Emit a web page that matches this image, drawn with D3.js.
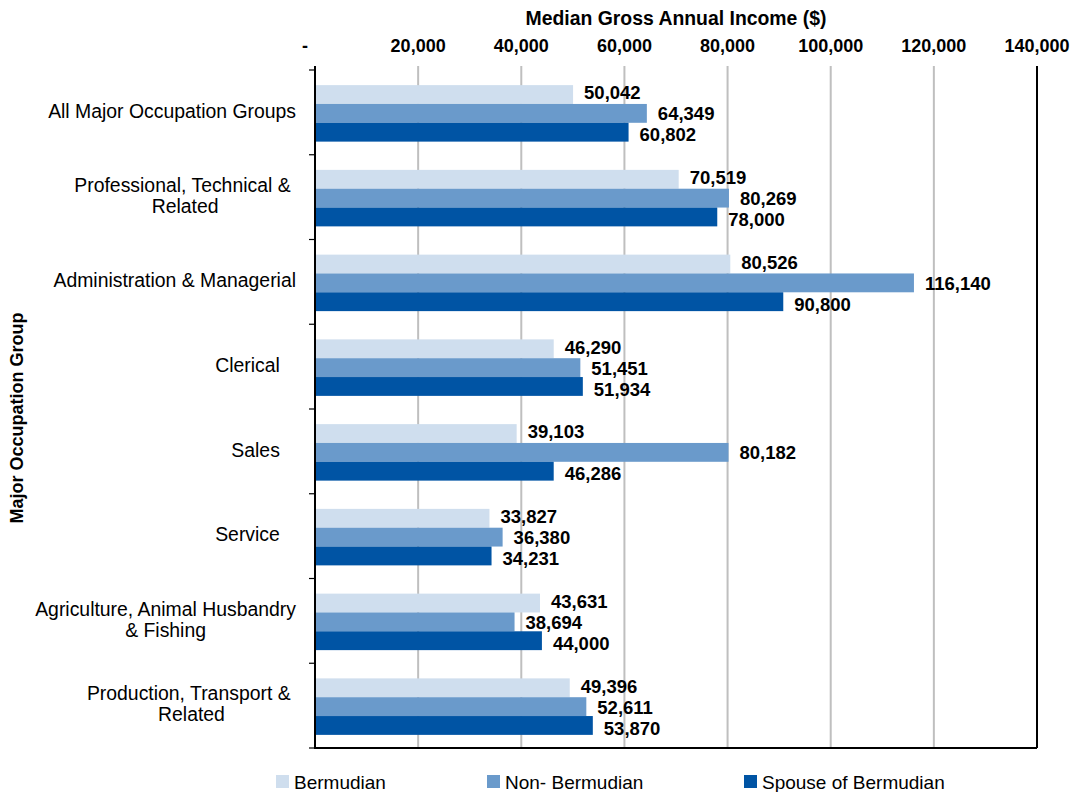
<!DOCTYPE html>
<html>
<head>
<meta charset="utf-8">
<script src="https://cdn.jsdelivr.net/npm/d3@7"></script>
<style>
  html, body { margin: 0; padding: 0; background: #fff; }
  svg { display: block; font-family: "Liberation Sans", Arial, sans-serif; }
  text { white-space: pre; }
</style>
</head>
<body>
<svg id="chart" width="1077" height="792"></svg>
<script>
const categories = [
  ["All Major Occupation Groups"],
  ["Professional, Technical & ", "Related"],
  ["Administration & Managerial"],
  ["Clerical   "],
  ["Sales   "],
  ["Service   "],
  ["Agriculture, Animal Husbandry", "& Fishing"],
  ["Production, Transport & ", "Related"]
];
const seriesNames = ["Bermudian", "Non- Bermudian", "Spouse of Bermudian"];
const bermudian = [50042, 70519, 80526, 46290, 39103, 33827, 43631, 49396];
const nonBermudian = [64349, 80269, 116140, 51451, 80182, 36380, 38694, 52611];
const spouse = [60802, 78000, 90800, 51934, 46286, 34231, 44000, 53870];
const tickValues = [0, 20000, 40000, 60000, 80000, 100000, 120000, 140000];
const tickLabels = ["-", "20,000", "40,000", "60,000", "80,000", "100,000", "120,000", "140,000"];
const colors = ["#cfdeee", "#6a9acb", "#0054a4"];
const xTitle = "Median Gross Annual Income ($)";
const yTitle = "Major Occupation Group";

(function() {
const series = [bermudian, nonBermudian, spouse];
const svg = d3.select("#chart");
const pLeft = 315, pRight = 1037, pTop = 66, pBottom = 748;

const x = d3.scaleLinear().domain([0, 140000]).range([pLeft, pRight]);
const y = d3.scaleBand().domain(d3.range(categories.length)).range([pTop + 4, pBottom]).paddingInner(0).paddingOuter(0);
const inner = d3.scaleBand().domain(d3.range(series.length)).range([0, y.bandwidth()]).paddingOuter(0.75).paddingInner(0);

// gridlines
svg.append("g").selectAll("line").data(tickValues.filter(v => v > 0 && v < 140000)).join("line")
  .attr("x1", d => x(d)).attr("x2", d => x(d))
  .attr("y1", pTop).attr("y2", pBottom)
  .attr("stroke", "#bfbfbf").attr("stroke-width", 2);

// right border (140,000)
svg.append("line").attr("x1", x(140000)).attr("x2", x(140000)).attr("y1", pTop).attr("y2", pBottom)
  .attr("stroke", "#000").attr("stroke-width", 2);

// bars
const gBars = svg.append("g");
series.forEach((vals, si) => {
  gBars.append("g").selectAll("rect").data(vals).join("rect")
    .attr("x", x(0))
    .attr("y", (d, i) => y(i) + inner(si) + 1)
    .attr("width", d => x(d) - x(0))
    .attr("height", inner.bandwidth())
    .attr("fill", colors[si]);
});

// value labels
const fmt = d3.format(",");
series.forEach((vals, si) => {
  svg.append("g").selectAll("text").data(vals).join("text")
    .attr("x", d => x(d) + 11)
    .attr("y", (d, i) => y(i) + y.bandwidth() / 2 + 1 + (si - 1) * 21 + 2)
    .attr("dominant-baseline", "middle")
    .attr("font-size", 18.5).attr("font-weight", "bold").attr("fill", "#000")
    .text(d => fmt(d));
});

// bottom line
svg.append("line").attr("x1", pLeft).attr("x2", pRight).attr("y1", pBottom).attr("y2", pBottom)
  .attr("stroke", "#000").attr("stroke-width", 2);

// left axis line with ticks
svg.append("line").attr("x1", pLeft).attr("x2", pLeft).attr("y1", pTop).attr("y2", pBottom + 1)
  .attr("stroke", "#000").attr("stroke-width", 2);
const boundaries = d3.range(categories.length + 1).map(i => i < categories.length ? y(i) : pBottom);
svg.append("g").selectAll("line").data(boundaries).join("line")
  .attr("x1", pLeft - 6).attr("x2", pLeft).attr("y1", d => d).attr("y2", d => d)
  .attr("stroke", "#000").attr("stroke-width", 1.2);

// top tick labels
svg.append("g").selectAll("text").data(tickValues).join("text")
  .attr("x", (d, i) => i === 0 ? x(d) - 10 : x(d))
  .attr("y", 52)
  .attr("text-anchor", "middle")
  .attr("font-size", 18).attr("font-weight", "bold").attr("fill", "#000")
  .text((d, i) => tickLabels[i]);

// x title
svg.append("text").attr("x", (pLeft + pRight) / 2).attr("y", 25)
  .attr("text-anchor", "middle").attr("font-size", 19.4).attr("font-weight", "bold").attr("fill", "#000")
  .text(xTitle);

// y title
svg.append("text").attr("transform", "translate(23,418) rotate(-90)")
  .attr("text-anchor", "middle").attr("font-size", 18).attr("font-weight", "bold").attr("fill", "#000")
  .text(yTitle);

// category labels
const labelRight = 296;
const lineH = 21;
categories.forEach((lines, i) => {
  const g = svg.append("g");
  const cy = y(i) + y.bandwidth() / 2;
  const texts = g.selectAll("text").data(lines).join("text")
    .attr("font-size", 19.4).attr("fill", "#000")
    .attr("y", (d, j) => cy + (j - (lines.length - 1) / 2) * lineH)
    .attr("dominant-baseline", "middle")
    .attr("text-anchor", "middle")
    .text(d => d);
  const widths = [];
  texts.each(function() { widths.push(this.getComputedTextLength()); });
  const w = d3.max(widths);
  texts.attr("x", labelRight - w / 2);
});

// legend
const legendX = [276, 487, 744];
const leg = svg.append("g");
seriesNames.forEach((name, i) => {
  leg.append("rect").attr("x", legendX[i]).attr("y", 775).attr("width", 13).attr("height", 13).attr("fill", colors[i]);
  leg.append("text").attr("x", legendX[i] + 18).attr("y", 789)
    .attr("font-size", 19).attr("fill", "#000").text(name);
});
})();
</script>
</body>
</html>
